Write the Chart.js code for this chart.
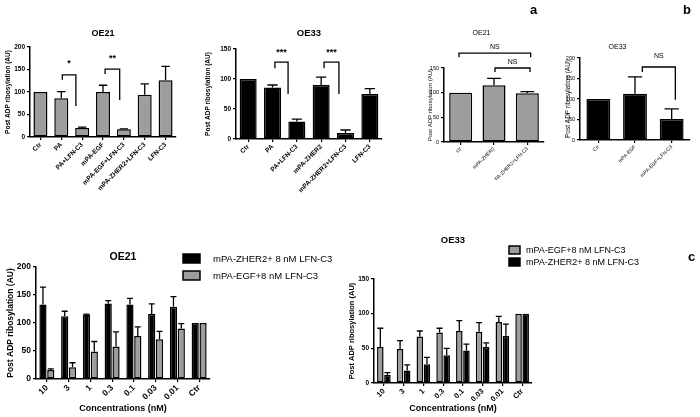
<!DOCTYPE html>
<html>
<head>
<meta charset="utf-8">
<script src="https://cdn.jsdelivr.net/npm/chart.js@4.4.0/dist/chart.umd.min.js"></script>
<style>
body{margin:0;width:700px;height:417px;background:#fff;position:relative;overflow:hidden;font-family:"Liberation Sans",Arial,sans-serif}
canvas{position:absolute}
.lt{position:absolute;font-weight:bold;font-size:13px;line-height:13px}
</style>
</head>
<body>
<canvas id="p1"></canvas>
<canvas id="p2"></canvas>
<canvas id="p3"></canvas>
<canvas id="p4"></canvas>
<canvas id="p5"></canvas>
<canvas id="p6"></canvas>
<div class="lt" style="left:530px;top:3px">a</div>
<div class="lt" style="left:683px;top:3px">b</div>
<div class="lt" style="left:688px;top:250px">c</div>
<script>
// panel a, OE21
const labelsA1 = ['Ctr', 'PA', 'PA+LFN-C3', 'mPA-EGF', 'mPA-EGF+LFN-C3', 'mPA-ZHER2+LFN-C3', 'LFN-C3'];
const valuesA1 = [100, 86, 20, 100, 17, 94, 126];
const errA1 = [0, 15, 2, 15, 1, 24, 31];
// panel a, OE33
const labelsA2 = ['Ctr', 'PA', 'PA+LFN-C3', 'mPA-ZHER2', 'mPA-ZHER2+LFN-C3', 'LFN-C3'];
const valuesA2 = [100, 86, 29, 90, 10, 75];
const errA2 = [0, 4, 4, 13, 5, 9];
// panel b
const labelsB1 = ['ctr', 'mPA-ZHER2', 'mPA-ZHER2+LFN-C3'];
const valuesB1 = [100, 115, 99];
const errB1 = [0, 14, 3];
const labelsB2 = ['Ctr', 'mPA-EGF', 'mPA-EGF+LFN-C3'];
const valuesB2 = [100, 113, 51];
const errB2 = [0, 41, 25];
// panel c
const concLabels = ['10', '3', '1', '0.3', '0.1', '0.03', '0.01', 'Ctr'];
const zherName = 'mPA-ZHER2+ 8 nM LFN-C3';
const egfName = 'mPA-EGF+8 nM LFN-C3';
const zherOE21 = [133, 112, 115, 135, 133, 116, 129, 100];
const zherOE21Err = [31, 9, 1, 5, 11, 18, 18, 0];
const egfOE21 = [16, 21, 49, 58, 77, 71, 90, 100];
const egfOE21Err = [2, 8, 18, 26, 16, 14, 9, 0];
const egfOE33 = [52, 49, 67, 73, 75, 74, 88, 100];
const egfOE33Err = [27, 12, 8, 6, 15, 13, 8, 0];
const zherOE33 = [12, 18, 27, 40, 47, 52, 68, 100];
const zherOE33Err = [3, 8, 10, 10, 9, 6, 17, 0];
// significance brackets: x in category units, heights in AU
const sigA1 = [
    {from: 1.05, to: 1.7, top: 138, left: 127, right: 69, text: '*'},
    {from: 3.1, to: 3.8, top: 151, left: 140, right: 82, text: '**'}
];
const sigA2 = [
    {from: 1.1, to: 1.64, top: 128, left: 118, right: 75, text: '***'},
    {from: 3.12, to: 3.73, top: 128, left: 118, right: 75, text: '***'}
];
const sigB1 = [
    {from: -0.05, to: 2.1, top: 180, left: 172, right: 172, text: 'NS'},
    {from: 1.03, to: 2.08, top: 150, left: 142, right: 142, text: 'NS'}
];
const sigB2 = [
    {from: 1.2, to: 2.1, top: 178, left: 166, right: 98, text: 'NS'}
];

const GREY = '#9d9d9d';
const BLACK = '#000';
const YTITLE = 'Post ADP ribosylation (AU)';

Chart.defaults.font.family = '"Liberation Sans", Arial, sans-serif';
Chart.defaults.color = '#000';
Chart.defaults.animation = false;
Chart.defaults.plugins.legend.display = false;
Chart.defaults.plugins.tooltip.enabled = false;

// error bars, only the upper half like in Prism
const errorBars = {
    id: 'errorBars',
    afterDatasetsDraw(chart) {
        const ctx = chart.ctx;
        const y = chart.scales.y;
        ctx.save();
        ctx.strokeStyle = '#000';
        ctx.lineWidth = 1.3;
        chart.data.datasets.forEach((ds, i) => {
            if (!ds.err) return;
            chart.getDatasetMeta(i).data.forEach((bar, j) => {
                const e = ds.err[j];
                if (!e) return;
                const top = y.getPixelForValue(ds.data[j] + e);
                const cap = Math.max(bar.width * 0.3, 3);
                ctx.beginPath();
                ctx.moveTo(bar.x, bar.y);
                ctx.lineTo(bar.x, top);
                ctx.moveTo(bar.x - cap, top);
                ctx.lineTo(bar.x + cap, top);
                ctx.stroke();
            });
        });
        ctx.restore();
    }
};

const sigBrackets = {
    id: 'sig',
    afterDraw(chart, args, o) {
        if (!o.items) return;
        const {ctx, scales: {x, y}} = chart;
        ctx.save();
        ctx.strokeStyle = '#000';
        ctx.lineWidth = 1.3;
        ctx.fillStyle = '#000';
        ctx.font = o.font;
        ctx.textAlign = 'center';
        ctx.textBaseline = 'middle';
        o.items.forEach(s => {
            const x1 = x.getPixelForValue(s.from);
            const x2 = x.getPixelForValue(s.to);
            const yt = y.getPixelForValue(s.top);
            ctx.beginPath();
            ctx.moveTo(x1, y.getPixelForValue(s.left));
            ctx.lineTo(x1, yt);
            ctx.lineTo(x2, yt);
            ctx.lineTo(x2, y.getPixelForValue(s.right));
            ctx.stroke();
            ctx.fillText(s.text, (x1 + x2) / 2, yt - o.gap);
        });
        ctx.restore();
    }
};

const boxLegend = {
    id: 'boxLegend',
    afterDraw(chart, args, o) {
        if (o.x === undefined) return;
        const ctx = chart.ctx;
        ctx.save();
        ctx.font = o.font;
        ctx.textBaseline = 'middle';
        chart.data.datasets.forEach((ds, i) => {
            const y = o.y + i * o.step;
            ctx.fillStyle = ds.backgroundColor;
            ctx.fillRect(o.x, y, o.w, o.h);
            ctx.lineWidth = 1.5;
            ctx.strokeStyle = '#000';
            ctx.strokeRect(o.x, y, o.w, o.h);
            ctx.fillStyle = '#000';
            ctx.fillText(ds.label, o.x + o.w + o.gap, y + o.h / 2 + 0.5);
        });
        ctx.restore();
    }
};

function bars(label, data, err, color, cat, bar) {
    return {
        label: label,
        data: data,
        err: err,
        backgroundColor: color,
        borderColor: '#000',
        borderWidth: 1.5,
        borderSkipped: false,
        categoryPercentage: cat,
        barPercentage: bar
    };
}

function panel(id, c) {
    const cv = document.getElementById(id);
    cv.width = c.w;
    cv.height = c.h;
    cv.style.left = c.left + 'px';
    cv.style.top = c.top + 'px';
    const a = c.area;
    const xTitle = c.xTitle
        ? {display: true, text: c.xTitle, font: c.xTitleFont,
           padding: {top: 0, bottom: c.top + c.h - c.xTitleY - c.xTitleFont.size * 0.6}}
        : {display: false};
    return new Chart(cv, {
        type: 'bar',
        data: {labels: c.labels, datasets: c.datasets},
        options: {
            responsive: false,
            layout: {autoPadding: false, padding: {left: 0, top: 0, bottom: 0, right: c.left + c.w - a.r}},
            plugins: {
                title: {
                    display: true, text: c.title, font: c.titleFont, fullSize: c.titleFull,
                    padding: {top: 0, bottom: a.t - c.top - c.titleFont.size * 1.2}
                },
                sig: c.sig || {},
                boxLegend: c.legend || {}
            },
            scales: {
                x: {
                    grid: {display: true, drawOnChartArea: false, offset: false, color: '#000', lineWidth: 1.2, tickLength: 3},
                    border: {color: '#000', width: 1.5},
                    ticks: {font: c.xFont, maxRotation: 45, minRotation: 45, autoSkip: false, padding: 1},
                    title: xTitle,
                    afterFit: s => { s.height = c.top + c.h - a.b; }
                },
                y: {
                    min: 0,
                    max: c.yMax,
                    ticks: {stepSize: 50, font: c.yFont, padding: 2},
                    grid: {display: true, drawOnChartArea: false, color: '#000', lineWidth: 1.2, tickLength: 3},
                    border: {color: '#000', width: 1.5},
                    title: {
                        display: true, text: YTITLE, font: c.yTitleFont,
                        padding: {top: c.yTitleX - c.left - c.yTitleFont.size * 0.6, bottom: 0}
                    },
                    afterFit: s => { s.width = a.l - c.left; }
                }
            }
        },
        plugins: [errorBars, sigBrackets, boxLegend]
    });
}

panel('p1', {
    left: 0, top: 28, w: 180, h: 168,
    area: {l: 30, r: 176, t: 47, b: 137},
    labels: labelsA1,
    datasets: [bars('OE21', valuesA1, errA1, GREY, 1, 0.67)],
    yMax: 200,
    title: 'OE21', titleFont: {size: 9, weight: 'bold'}, titleFull: false,
    yTitleX: 8, yTitleFont: {size: 6.5, weight: 'bold'},
    yFont: {size: 6.5, weight: 'bold'}, xFont: {size: 6.5, weight: 'bold'},
    sig: {items: sigA1, font: 'bold 9px "Liberation Sans", Arial', gap: 11}
});

panel('p2', {
    left: 200, top: 28, w: 186, h: 169,
    area: {l: 236, r: 382, t: 49, b: 139},
    labels: labelsA2,
    datasets: [bars('OE33', valuesA2, errA2, BLACK, 1, 0.7)],
    yMax: 150,
    title: 'OE33', titleFont: {size: 9.5, weight: 'bold'}, titleFull: false,
    yTitleX: 208, yTitleFont: {size: 6.5, weight: 'bold'},
    yFont: {size: 6.5, weight: 'bold'}, xFont: {size: 6.5, weight: 'bold'},
    sig: {items: sigA2, font: 'bold 9px "Liberation Sans", Arial', gap: 10}
});

panel('p3', {
    left: 419, top: 29, w: 127, h: 151,
    area: {l: 444, r: 544, t: 68, b: 142},
    labels: labelsB1,
    datasets: [bars('OE21', valuesB1, errB1, GREY, 1, 0.69)],
    yMax: 150,
    title: 'OE21', titleFont: {size: 7, weight: 'normal'}, titleFull: true,
    yTitleX: 430, yTitleFont: {size: 6},
    yFont: {size: 5.5}, xFont: {size: 5},
    sig: {items: sigB1, font: '7px "Liberation Sans", Arial', gap: 6}
});

panel('p4', {
    left: 545, top: 43, w: 147, h: 137,
    area: {l: 580, r: 690, t: 58, b: 140},
    labels: labelsB2,
    datasets: [bars('OE33', valuesB2, errB2, BLACK, 1, 0.65)],
    yMax: 200,
    title: 'OE33', titleFont: {size: 7, weight: 'normal'}, titleFull: true,
    yTitleX: 568, yTitleFont: {size: 6.5},
    yFont: {size: 5.5}, xFont: {size: 5},
    sig: {items: sigB2, font: '7px "Liberation Sans", Arial', gap: 11}
});

panel('p5', {
    left: 0, top: 251, w: 340, h: 166,
    area: {l: 36, r: 210, t: 267, b: 379},
    labels: concLabels,
    datasets: [
        bars(zherName, zherOE21, zherOE21Err, BLACK, 0.72, 0.92),
        bars(egfName, egfOE21, egfOE21Err, GREY, 0.72, 0.92)
    ],
    yMax: 200,
    title: 'OE21', titleFont: {size: 10.5, weight: 'bold'}, titleFull: false,
    yTitleX: 11, yTitleFont: {size: 8.5, weight: 'bold'},
    yFont: {size: 8.5, weight: 'bold'}, xFont: {size: 8.5, weight: 'bold'},
    xTitle: 'Concentrations (nM)', xTitleFont: {size: 9, weight: 'bold'}, xTitleY: 409,
    legend: {x: 183, y: 3, step: 17, w: 17, h: 9, gap: 13, font: '9.5px "Liberation Sans", Arial'}
});

panel('p6', {
    left: 340, top: 235, w: 300, h: 182,
    area: {l: 374, r: 532, t: 279, b: 383},
    labels: concLabels,
    datasets: [
        bars(egfName, egfOE33, egfOE33Err, GREY, 0.72, 0.92),
        bars(zherName, zherOE33, zherOE33Err, BLACK, 0.72, 0.92)
    ],
    yMax: 150,
    title: 'OE33', titleFont: {size: 9.5, weight: 'bold'}, titleFull: false,
    yTitleX: 352, yTitleFont: {size: 7.5, weight: 'bold'},
    yFont: {size: 6.5, weight: 'bold'}, xFont: {size: 7.5, weight: 'bold'},
    xTitle: 'Concentrations (nM)', xTitleFont: {size: 9, weight: 'bold'}, xTitleY: 409,
    legend: {x: 169, y: 11, step: 12, w: 11, h: 8, gap: 6, font: '9px "Liberation Sans", Arial'}
});
</script>
</body>
</html>
